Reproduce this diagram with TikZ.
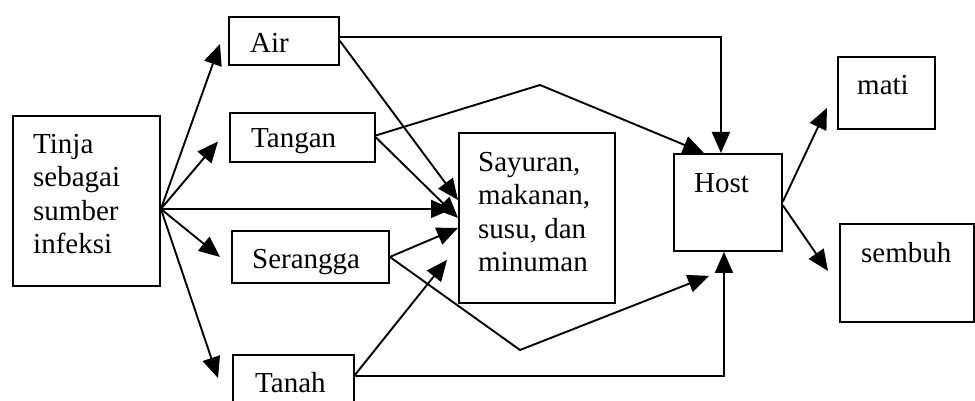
\documentclass[tikz,border=0pt]{standalone}
\usepackage{fontspec}
\setmainfont{Liberation Serif}
\usetikzlibrary{arrows.meta}
\begin{document}
\begin{tikzpicture}[x=1pt,y=-1pt,
  box/.style={draw,line width=1.9pt,inner sep=0pt,anchor=north west},
  lbl/.style={inner sep=0pt,anchor=base west,font=\fontsize{29}{33.5}\selectfont},
  mlbl/.style={inner sep=0pt,anchor=north west,align=left,font=\fontsize{29}{33.5}\selectfont},
  arr/.style={line width=1.9pt,-{Triangle[length=21pt,width=18pt]}}]
\useasboundingbox (0,0) rectangle (975,401);
% boxes
\node[box,minimum width=147pt,minimum height=170pt] (tinja) at (12,115) {};
\node[box,minimum width=110pt,minimum height=48pt] (air) at (228,16) {};
\node[box,minimum width=145pt,minimum height=49pt] (tangan) at (229,112) {};
\node[box,minimum width=157pt,minimum height=52pt] (serangga) at (231,230) {};
\node[box,minimum width=121pt,minimum height=58pt] (tanah) at (232,354) {};
\node[box,minimum width=156pt,minimum height=170pt] (sayuran) at (458,132) {};
\node[box,minimum width=108pt,minimum height=97pt] (host) at (673,153) {};
\node[box,minimum width=97pt,minimum height=72pt] (mati) at (837,56) {};
\node[box,minimum width=134pt,minimum height=98pt] (sembuh) at (839,223) {};
% texts
\node[mlbl] (tTinja) at (33,134) {Tinja\\sebagai\\sumber\\infeksi};
\node[mlbl] (tSay) at (478,152) {Sayuran,\\makanan,\\susu, dan\\minuman};
\node[lbl] (tAir) at (250,53) {Air};
\node[lbl] (tTangan) at (251,148) {Tangan};
\node[lbl] (tSerangga) at (252,268) {Serangga};
\node[lbl] (tTanah) at (255,392) {Tanah};
\node[lbl] (tHost) at (694,193) {Host};
\node[lbl] (tMati) at (857,95) {mati};
\node[lbl] (tSembuh) at (861,262) {sembuh};
% helper coordinates
\coordinate (o) at ([yshift=-8pt]tinja.east);
\coordinate (peakA) at (540,85);
\coordinate (valB) at (520,350);
% from Tinja
\draw[arr] (o) -- ([xshift=-8pt,yshift=-3pt]air.west);
\draw[arr] (o) -- ([xshift=-11pt,yshift=-4pt]tangan.west);
\draw[arr] (o) -- ([xshift=-6pt,yshift=9pt]sayuran.west);
\draw[arr] (o) -- ([xshift=-11pt]serangga.west);
\draw[arr] (o) -- ([xshift=-14pt,yshift=-24pt]tanah.north west);
% Air
\draw[arr] (air.east) -- ([yshift=-68pt]sayuran.north west);
\draw[arr] ([yshift=4pt]air.east) -| ([xshift=-7pt]host.north);
% Tangan
\draw[arr] (tangan.east) -- (sayuran.west);
\draw[arr] ([yshift=2pt]tangan.east) -- (peakA) -- ([xshift=-24pt]host.north);
% Serangga
\draw[arr] (serangga.east) -- ([yshift=-10pt]sayuran.west);
\draw[arr] (serangga.east) -- (valB) -- ([xshift=-19pt,yshift=-24pt]host.south);
% Tanah
\draw[arr] ([yshift=-21pt]tanah.north east) -- ([xshift=-11pt,yshift=44pt]sayuran.south west);
\draw[arr] ([yshift=-22pt]tanah.north east) -| ([xshift=-4pt]host.south);
% Host
\draw[arr] ([yshift=1pt]host.east) -- ([xshift=-10pt,yshift=-15pt]mati.west);
\draw[arr] ([yshift=-3pt]host.east) -- ([xshift=-11pt,yshift=2pt]sembuh.west);
\end{tikzpicture}
\end{document}
